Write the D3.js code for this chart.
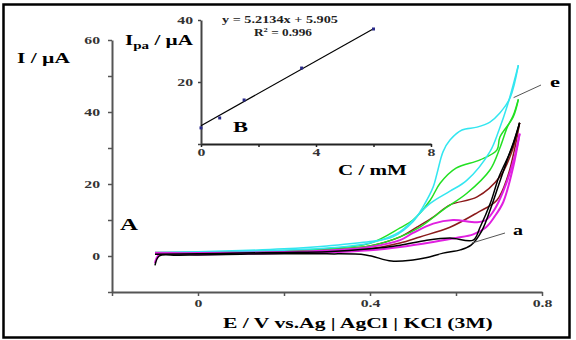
<!DOCTYPE html>
<html>
<head>
<meta charset="utf-8">
<script src="https://cdn.jsdelivr.net/npm/d3@7"></script>
<style>
  body { margin: 0; background: #fff; }
  text { font-family: "Liberation Serif", "Times New Roman", serif; font-weight: bold; }
</style>
</head>
<body>
<div id="viz"></div>
<script>
const width = 576;
const height = 340;

// main plot ticks
const xTicksMain = [-0.2, 0, 0.2, 0.4, 0.6, 0.8];
const xLabelsMain = ['', '0', '', '0.4', '', '0.8'];
const yTicksMain = [-10, 0, 10, 20, 30, 40, 50, 60];
const yLabelsMain = ['', '0', '', '20', '', '40', '', '60'];

// CV loops [E (V), I (µA)], one array per scan branch
const curveA_fwd = [[-0.1,-2.6],[-0.09,0],[-0.05,0.2],[0,0.3],[0.1,0.5],[0.2,0.6],[0.3,0.6],[0.39,0.3],[0.45,-1.4],[0.5,-1.1],[0.53,-0.5],[0.57,0.8],[0.61,1.7],[0.635,3],[0.66,7],[0.68,13],[0.7,20],[0.72,27],[0.735,32],[0.748,37]];
const curveA_rev = [[0.748,37],[0.73,30],[0.7,22],[0.68,14.7],[0.656,8],[0.64,4.4],[0.586,5],[0.532,4.4],[0.47,3],[0.4,2],[0.3,1.2],[0.2,1],[0.1,0.8],[0,0.6],[-0.1,0.5]];
const curveB_fwd = [[-0.1,-2],[-0.09,0.3],[0,0.4],[0.1,0.6],[0.2,0.8],[0.3,1],[0.4,1.6],[0.47,2.5],[0.547,3.9],[0.6,5],[0.64,6],[0.67,8],[0.69,11],[0.71,15],[0.733,24.7],[0.748,34]];
const curveB_rev = [[0.748,34],[0.735,27],[0.71,18],[0.69,13],[0.67,10],[0.649,9.4],[0.593,10],[0.547,9],[0.5,6.4],[0.47,4.4],[0.4,2.5],[0.3,1.5],[0.2,1.1],[0.1,0.9],[0,0.8],[-0.1,0.8]];
const curveC_fwd = [[-0.1,0.8],[0,0.7],[0.1,0.9],[0.2,1],[0.3,1.3],[0.4,2],[0.47,3.6],[0.516,5.3],[0.586,8],[0.649,12],[0.695,15.5],[0.72,22],[0.735,29],[0.748,37]];
const curveC_rev = [[0.748,37],[0.73,29],[0.702,22],[0.649,16.4],[0.586,14.2],[0.547,10.8],[0.509,8],[0.47,5.3],[0.4,2.8],[0.3,1.8],[0.2,1.3],[0.1,1.1],[0,1],[-0.1,1]];
const curveD_fwd = [[-0.1,0.5],[0,0.6],[0.1,0.9],[0.2,1.2],[0.3,1.7],[0.4,2.8],[0.47,5.3],[0.516,8],[0.57,12.8],[0.626,17.5],[0.679,23.9],[0.702,30],[0.72,36],[0.733,39],[0.745,43.5]];
const curveD_rev = [[0.745,43.5],[0.733,38.6],[0.702,33],[0.695,29.4],[0.656,26.7],[0.6,24.4],[0.563,20.2],[0.54,15.5],[0.5,10],[0.47,7.8],[0.4,3.5],[0.3,2],[0.2,1.5],[0.1,1.2],[0,1],[-0.1,0.8]];
const curveE_fwd = [[-0.1,0.6],[0,0.8],[0.1,1.2],[0.2,1.6],[0.3,2.2],[0.4,3.6],[0.47,6.8],[0.54,14.6],[0.586,18],[0.625,21],[0.679,29],[0.7,35],[0.72,42],[0.745,53]];
const curveE_rev = [[0.745,53],[0.726,44],[0.702,39.7],[0.679,37.2],[0.649,35.8],[0.614,35],[0.586,32.2],[0.57,29],[0.556,23],[0.547,19.2],[0.523,13.6],[0.5,9.5],[0.453,5.3],[0.4,4],[0.3,2.8],[0.2,2],[0.1,1.5],[0,1.2],[-0.1,1]];

// inset: calibration
const concs = [0, 0.65, 1.5, 3.5, 6];
const ipa = [5.2, 8.4, 14.2, 24.5, 37.1];
const fitSlope = 5.2134;
const fitIntercept = 5.905;
const xTicksInset = [0, 2, 4, 6, 8];
const xLabelsInset = ['0', '', '4', '', '8'];
const yTicksInset = [0, 20, 40];
const yLabelsInset = ['', '20', '40'];

const curves = [
  { key: 'c', color: '#8b1a1a', fwd: curveC_fwd, rev: curveC_rev },
  { key: 'd', color: '#22e022', fwd: curveD_fwd, rev: curveD_rev },
  { key: 'e', color: '#33e6f0', fwd: curveE_fwd, rev: curveE_rev },
  { key: 'b', color: '#e020e0', fwd: curveB_fwd, rev: curveB_rev },
  { key: 'a', color: '#000000', fwd: curveA_fwd, rev: curveA_rev },
];

const svg = d3.select('#viz')
  .append('svg')
    .attr('width', width)
    .attr('height', height);

// outer frame
svg.append('rect')
  .attr('x', 3.5).attr('y', 4.5)
  .attr('width', 566).attr('height', 333)
  .attr('fill', 'none')
  .attr('stroke', '#000')
  .attr('stroke-width', 2.5);

// the original figure's text looks horizontally stretched, so squeeze/stretch to a target width
const label = (x, y, size, targetWidth) => {
  const g = svg.append('g');
  const t = g.append('text').style('font-size', size + 'px');
  return {
    text: t,
    fit: () => {
      const w = t.node().getComputedTextLength();
      g.attr('transform', `translate(${x},${y}) scale(${targetWidth / w},1)`);
    }
  };
};

const stretchTicks = (g, sx) => {
  g.selectAll('.tick text').each(function() {
    const w = this.getComputedTextLength();
    if (w > 0) d3.select(this).attr('textLength', w * sx).attr('lengthAdjust', 'spacingAndGlyphs');
  });
};

// Main scales
const scaleX = d3.scaleLinear().domain([-0.2, 0.8]).range([112, 542]);
const scaleY = d3.scaleLinear().domain([-10, 60]).range([292, 40]);

const axisBottom = d3.axisBottom(scaleX)
  .tickValues(xTicksMain)
  .tickFormat((d, i) => xLabelsMain[i])
  .tickSize(4)
  .tickSizeOuter(0)
  .tickPadding(4);
const axisLeft = d3.axisLeft(scaleY)
  .tickValues(yTicksMain)
  .tickFormat((d, i) => yLabelsMain[i])
  .tickSize(4)
  .tickSizeOuter(0)
  .tickPadding(8);

const styleAxis = (g, col) => {
  g.select('.domain').attr('stroke', col).attr('stroke-width', 2);
  g.selectAll('.tick line').attr('stroke', col).attr('stroke-width', 1.5);
  g.selectAll('.tick text')
    .attr('fill', '#333')
    .style('font-size', '10.5px')
    .style('font-family', '"Liberation Serif", serif')
    .style('font-weight', 'bold');
  stretchTicks(g, 1.5);
};

svg.append('g')
  .attr('transform', 'translate(0,292)')
  .call(axisBottom)
  .call(g => styleAxis(g, '#555'));
svg.append('g')
  .attr('transform', 'translate(112,0)')
  .call(axisLeft)
  .call(g => styleAxis(g, '#555'));

// CV curves
const line = d3.line()
  .x(d => scaleX(d[0]))
  .y(d => scaleY(d[1]))
  .curve(d3.curveCatmullRom);

const curveG = svg.append('g').attr('class', 'cv-curves');
curves.forEach(c => {
  [c.fwd, c.rev].forEach(branch => {
    curveG.append('path')
      .attr('d', line(branch))
      .attr('fill', 'none')
      .attr('stroke', c.color)
      .attr('stroke-width', c.key === 'b' ? 2 : 1.5)
      .attr('stroke-linejoin', 'round');
  });
});

// curve labels with pointer lines
svg.append('line')
  .attr('x1', scaleX(0.637)).attr('y1', scaleY(3.6))
  .attr('x2', 505).attr('y2', 233)
  .attr('stroke', '#555').attr('stroke-width', 1);
svg.append('line')
  .attr('x1', scaleX(0.734)).attr('y1', scaleY(44))
  .attr('x2', 541).attr('y2', 85)
  .attr('stroke', '#555').attr('stroke-width', 1);

const labA = label(513, 235, 15, 10); labA.text.text('a'); labA.fit();
const labE = label(550, 87, 15, 10); labE.text.text('e'); labE.fit();

// main labels
const yTitle = label(17, 63, 14, 53); yTitle.text.text('I  / µA'); yTitle.fit();
const panelA = label(120, 230, 16, 18); panelA.text.text('A'); panelA.fit();
const xTitle = label(223, 328, 15.5, 270); xTitle.text.text('E  / V vs.Ag | AgCl | KCl (3M)'); xTitle.fit();

// Inset
const scaleXi = d3.scaleLinear().domain([0, 8]).range([201, 431]);
const scaleYi = d3.scaleLinear().domain([0, 40]).range([144, 20]);

const axisBottomI = d3.axisBottom(scaleXi)
  .tickValues(xTicksInset)
  .tickFormat((d, i) => xLabelsInset[i])
  .tickSize(3)
  .tickSizeOuter(0)
  .tickPadding(2);
const axisLeftI = d3.axisLeft(scaleYi)
  .tickValues(yTicksInset)
  .tickFormat((d, i) => yLabelsInset[i])
  .tickSize(3)
  .tickSizeOuter(0)
  .tickPadding(5);

svg.append('g')
  .attr('transform', 'translate(0,144)')
  .call(axisBottomI)
  .call(g => styleAxis(g, '#222'));
svg.append('g')
  .attr('transform', 'translate(201,0)')
  .call(axisLeftI)
  .call(g => styleAxis(g, '#444'));

// fit line
svg.append('line')
  .attr('x1', scaleXi(0)).attr('y1', scaleYi(fitIntercept))
  .attr('x2', scaleXi(6)).attr('y2', scaleYi(fitSlope * 6 + fitIntercept))
  .attr('stroke', '#000').attr('stroke-width', 1.2);

// calibration points
svg.append('g')
  .selectAll('rect')
  .data(concs.map((c, i) => [c, ipa[i]]))
  .join('rect')
    .attr('x', d => scaleXi(d[0]) - 1.5)
    .attr('y', d => scaleYi(d[1]) - 1.5)
    .attr('width', 3).attr('height', 3)
    .attr('fill', '#2a2a8a');

const eq = label(222, 23, 9.5, 116);
eq.text.attr('fill', '#222').text('y = 5.2134x + 5.905');
eq.fit();
const r2 = label(254, 36, 9.5, 58);
r2.text.attr('fill', '#222');
r2.text.append('tspan').text('R');
r2.text.append('tspan').attr('dy', -4).style('font-size', '6px').text('2');
r2.text.append('tspan').attr('dy', 4).text(' = 0.996');
r2.fit();

const panelB = label(233, 132, 15, 15); panelB.text.text('B'); panelB.fit();

const ipaLabel = label(125, 45, 14, 68);
ipaLabel.text.append('tspan').text('I');
ipaLabel.text.append('tspan').attr('dy', 4).style('font-size', '10px').text('pa');
ipaLabel.text.append('tspan').attr('dy', -4).text(' / µA');
ipaLabel.fit();

const cTitle = label(338, 175, 14, 69); cTitle.text.text('C / mM'); cTitle.fit();
</script>
</body>
</html>
